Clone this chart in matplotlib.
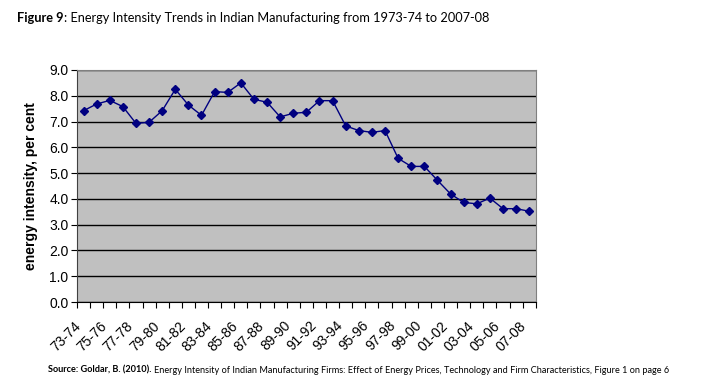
import numpy as np
import matplotlib
matplotlib.use("Agg")
from matplotlib import pyplot as plt
from matplotlib.transforms import ScaledTranslation

# financial years 1973-74 .. 2007-08
years = [f"{y % 100:02d}-{(y + 1) % 100:02d}" for y in range(1973, 2008)]
intensity = [7.42, 7.68, 7.82, 7.58, 6.93, 6.97, 7.42, 8.25, 7.64, 7.24,
             8.16, 8.13, 8.50, 7.86, 7.75, 7.18, 7.32, 7.36, 7.81, 7.81,
             6.83, 6.65, 6.58, 6.65, 5.57, 5.26, 5.26, 4.72, 4.19, 3.86,
             3.81, 4.03, 3.62, 3.62, 3.52]
yticks = [0, 1, 2, 3, 4, 5, 6, 7, 8, 9]

fig = plt.figure(figsize=(7.26, 3.86), dpi=100)
ax = fig.add_axes([0.106, 0.2176, 0.632, 0.6011])
ax.set_facecolor("#C0C0C0")

x = np.arange(len(years))
ax.plot(x, intensity, color="#000080", linewidth=1, marker="D",
        markersize=3.8, zorder=3)

ax.set_xlim(-0.5, len(years) - 0.5)
ax.set_ylim(0, 9)
ax.set_yticks(yticks)
ax.set_yticklabels([f"{v:.1f}" for v in yticks], fontsize=10,
                   family="Liberation Sans")
ax.yaxis.grid(True, color="black", linewidth=1)
ax.set_axisbelow(True)

# category ticks sit between categories, labels every other year
ax.set_xticks(np.arange(-0.5, len(years), 1.0))
ax.set_xticklabels([])
ax.set_xticks(x[::2], minor=True)
ax.set_xticklabels(years[::2], minor=True, rotation=45, ha="right",
                   va="top", fontsize=10, family="Liberation Sans")
shift = ScaledTranslation(-5 / 100, 0, fig.dpi_scale_trans)
for lbl in ax.get_xticklabels(minor=True):
    lbl.set_transform(lbl.get_transform() + shift)
ax.tick_params(axis="x", which="minor", length=0, pad=12)
ax.tick_params(axis="x", which="major", length=4, color="black")
ax.tick_params(axis="y", length=4, color="black", pad=2)

for s in ["top", "right"]:
    ax.spines[s].set_color("#808080")
ax.spines["left"].set_color("#404040")
ax.spines["bottom"].set_color("black")

ax.set_ylabel("energy intensity, per cent", fontsize=10, fontweight="bold",
              family="Liberation Sans", labelpad=8)

fig.canvas.draw()
renderer = fig.canvas.get_renderer()


def run_text(x0, y0, parts, size):
    # draw bold / regular pieces one after the other on one line
    xp = x0
    for txt, weight in parts:
        t = fig.text(xp, y0, txt, fontsize=size, fontweight=weight,
                     family="Lato", va="center")
        bb = t.get_window_extent(renderer)
        xp += bb.width / fig.bbox.width


run_text(0.024, 0.953, [("Figure 9", "bold"),
                        (": Energy Intensity Trends in Indian Manufacturing from 1973-74 to 2007-08", "normal")],
         9.2)
run_text(0.066, 0.041, [("Source: Goldar, B. (2010). ", "bold"),
                        ("Energy Intensity of Indian Manufacturing Firms: Effect of Energy Prices, "
                         "Technology and Firm Characteristics, Figure 1 on page 6", "normal")],
         6.6)

fig.savefig("out.png", dpi=100)
